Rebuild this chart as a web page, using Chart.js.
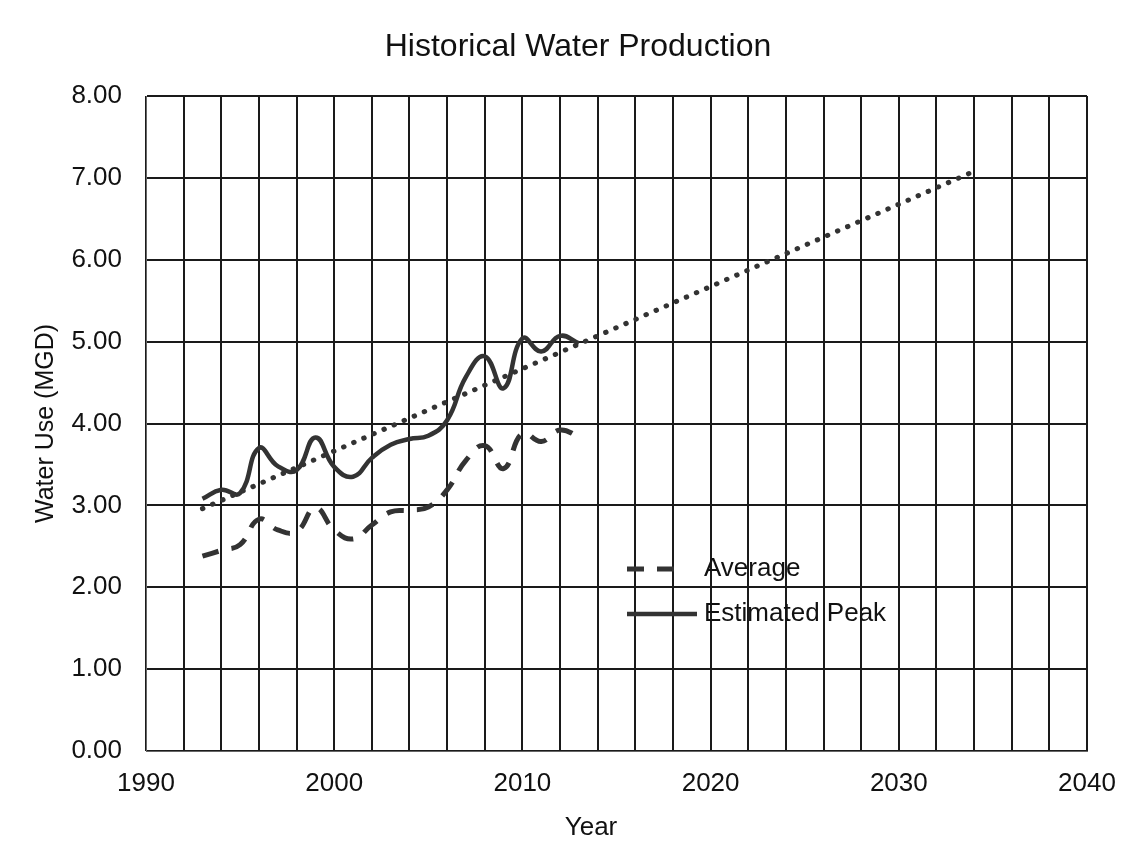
<!DOCTYPE html>
<html>
<head>
<meta charset="utf-8">
<script src="https://cdn.jsdelivr.net/npm/chart.js@4/dist/chart.umd.min.js"></script>
<style>
  html, body { margin: 0; padding: 0; background: #fff; }
  #wrap { width: 1140px; height: 865px; }
</style>
</head>
<body>
<div id="wrap"><canvas id="chart" width="1140" height="865"></canvas></div>
<script>
const years = [1993, 1994, 1995, 1996, 1997, 1998, 1999, 2000, 2001, 2002, 2003,
  2004, 2005, 2006, 2007, 2008, 2009, 2010, 2011, 2012, 2013];
const average = [2.38, 2.45, 2.52, 2.83, 2.70, 2.68, 2.97, 2.70, 2.59, 2.76, 2.92,
  2.94, 2.98, 3.19, 3.55, 3.73, 3.45, 3.88, 3.78, 3.92, 3.84];
const estimatedPeak = [3.08, 3.19, 3.15, 3.70, 3.48, 3.43, 3.83, 3.47, 3.35, 3.58, 3.74,
  3.81, 3.85, 4.04, 4.57, 4.82, 4.43, 5.04, 4.88, 5.07, 4.98];
const trendYears = [1993, 2034];
const trendValues = [2.96, 7.08];

const chartTitle = 'Historical Water Production';
const xTitle = 'Year';
const FONT = "'Liberation Sans', Arial, sans-serif";
const ink = '#333';

function toPoints(xs, ys) {
  return xs.map((x, i) => ({ x: x, y: ys[i] }));
}

// titles drawn by hand so they can sit off-centre like the original
const looseTitles = {
  id: 'looseTitles',
  afterDraw(chart) {
    const ctx = chart.ctx;
    ctx.save();
    ctx.fillStyle = '#111';
    ctx.textAlign = 'center';
    ctx.textBaseline = 'middle';
    ctx.font = '32px ' + FONT;
    ctx.fillText(chartTitle, 578, 47);
    ctx.font = '26px ' + FONT;
    ctx.fillText(xTitle, 591, 828);
    ctx.restore();
  }
};

// legend sits inside the plot, like the original
const insideLegend = {
  id: 'insideLegend',
  afterDatasetsDraw(chart) {
    const ctx = chart.ctx;
    const items = [
      { ds: chart.data.datasets[0], y: 569, x0: 627, x1: 683 },
      { ds: chart.data.datasets[1], y: 614, x0: 627, x1: 697 }
    ];
    ctx.save();
    items.forEach(it => {
      ctx.beginPath();
      ctx.strokeStyle = it.ds.borderColor;
      ctx.lineWidth = it.ds.borderWidth;
      ctx.setLineDash(it.ds.borderDash || []);
      ctx.moveTo(it.x0, it.y);
      ctx.lineTo(it.x1, it.y);
      ctx.stroke();
      ctx.setLineDash([]);
      ctx.fillStyle = '#111';
      ctx.font = '26px ' + FONT;
      ctx.textBaseline = 'middle';
      ctx.textAlign = 'left';
      ctx.fillText(it.ds.label, 704, it.y);
    });
    ctx.restore();
  }
};

new Chart(document.getElementById('chart'), {
  type: 'line',
  data: {
    datasets: [
      {
        label: 'Average',
        data: toPoints(years, average),
        borderColor: ink,
        borderWidth: 5,
        borderDash: [17, 13],
        tension: 0.45,
        pointRadius: 0,
        fill: false
      },
      {
        label: 'Estimated Peak',
        data: toPoints(years, estimatedPeak),
        borderColor: ink,
        borderWidth: 4.5,
        tension: 0.45,
        pointRadius: 0,
        fill: false
      },
      {
        label: 'Trend',
        data: toPoints(trendYears, trendValues),
        borderColor: ink,
        borderWidth: 5,
        borderDash: [0.5, 10.5],
        borderCapStyle: 'round',
        tension: 0,
        pointRadius: 0,
        fill: false
      }
    ]
  },
  options: {
    responsive: false,
    animation: false,
    layout: { padding: { left: 0, right: 53, top: 96, bottom: 21 } },
    plugins: {
      legend: { display: false },
      tooltip: { enabled: false },
      title: { display: false }
    },
    scales: {
      x: {
        type: 'linear',
        min: 1990,
        max: 2040,
        afterFit: s => { s.height = 93; },
        grid: { color: '#1a1a1a', lineWidth: 2, drawTicks: false },
        border: { color: '#666', width: 1 },
        ticks: {
          stepSize: 2,
          autoSkip: false,
          maxRotation: 0,
          padding: 17,
          color: '#111',
          font: { family: FONT, size: 26 },
          callback: v => (v % 10 === 0 ? String(v) : '')
        },
        title: { display: false }
      },
      y: {
        min: 0,
        max: 8,
        afterFit: s => { s.width = 146; },
        grid: { color: '#1a1a1a', lineWidth: 2, drawTicks: false },
        border: { color: '#666', width: 1 },
        ticks: {
          stepSize: 1,
          padding: 24,
          color: '#111',
          font: { family: FONT, size: 26 },
          callback: v => Number(v).toFixed(2)
        },
        title: {
          display: true,
          text: 'Water Use (MGD)',
          color: '#111',
          font: { family: FONT, size: 25 },
          padding: { top: 31, bottom: 0 }
        }
      }
    }
  },
  plugins: [insideLegend, looseTitles]
});
</script>
</body>
</html>
